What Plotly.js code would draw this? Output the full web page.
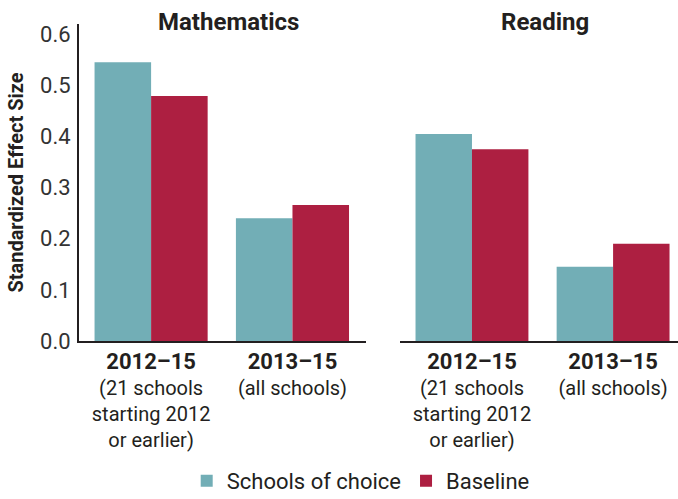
<!DOCTYPE html>
<html>
<head>
<meta charset="utf-8">
<script src="https://cdn.plot.ly/plotly-3.0.1.min.js"></script>
<style>html,body{margin:0;padding:0;background:#fff;}#chart{width:678px;height:499px;}</style>
</head>
<body>
<div id="chart"></div>
<script>
// ---- data ----
const categories = ['2012–15', '2013–15'];
const tickLabels = [
  '<b><span style="font-size:22px">2012–15</span></b><br>(21 schools<br>starting 2012<br>or earlier)',
  '<b><span style="font-size:22px">2013–15</span></b><br>(all schools)'
];
const seriesNames = ['Schools of choice', 'Baseline'];
const mathChoice = [0.545, 0.240];
const mathBaseline = [0.479, 0.266];
const readChoice = [0.405, 0.145];
const readBaseline = [0.375, 0.190];
const panelTitles = ['Mathematics', 'Reading'];

const teal = '#72aeb6';
const red = '#ad1f41';
const ink = '#231f20';
const FONT = 'Roboto, "Open Sans", sans-serif';

const traces = [
  {type: 'bar', name: seriesNames[0], x: categories, y: mathChoice, xaxis: 'x', yaxis: 'y',
   marker: {color: teal}, legendgroup: 'a', hoverinfo: 'y'},
  {type: 'bar', name: seriesNames[1], x: categories, y: mathBaseline, xaxis: 'x', yaxis: 'y',
   marker: {color: red}, legendgroup: 'b', hoverinfo: 'y'},
  {type: 'bar', name: seriesNames[0], x: categories, y: readChoice, xaxis: 'x2', yaxis: 'y',
   marker: {color: teal}, legendgroup: 'a', showlegend: false, hoverinfo: 'y'},
  {type: 'bar', name: seriesNames[1], x: categories, y: readBaseline, xaxis: 'x2', yaxis: 'y',
   marker: {color: red}, legendgroup: 'b', showlegend: false, hoverinfo: 'y'}
];

const xCommon = {
  type: 'category',
  tickvals: categories,
  ticktext: tickLabels,
  tickfont: {family: FONT, size: 20, color: ink},
  showline: true, linecolor: ink, linewidth: 2,
  showgrid: false, zeroline: false, ticks: '', anchor: 'y',
  ticklabelstandoff: 2,
  fixedrange: true
};

const layout = {
  width: 678, height: 499,
  margin: {l: 79, r: 0, t: 24, b: 158},
  paper_bgcolor: '#fff', plot_bgcolor: '#fff',
  font: {family: FONT, color: ink},
  barmode: 'group', bargap: 0.2, bargroupgap: 0,
  showlegend: true,
  legend: {orientation: 'h', xref: 'container', yref: 'container',
           x: 0.532, xanchor: 'center', y: 0.036, yanchor: 'middle',
           font: {family: FONT, size: 22, color: ink}, traceorder: 'normal'},
  xaxis: Object.assign({}, xCommon, {domain: [0, 0.4791], range: [-0.51, 1.52]}),
  xaxis2: Object.assign({}, xCommon, {domain: [0.5359, 1], range: [-0.51, 1.46]}),
  yaxis: {
    range: [0, 0.62], domain: [0, 1],
    tickvals: [0, 0.1, 0.2, 0.3, 0.4, 0.5, 0.6],
    ticktext: ['0.0', '0.1', '0.2', '0.3', '0.4', '0.5', '0.6'],
    tickfont: {family: FONT, size: 22, color: '#333'},
    showline: true, linecolor: ink, linewidth: 2,
    showgrid: false, zeroline: false, ticks: '', ticklabelstandoff: 2,
    title: {text: '<b>Standardized Effect Size</b>', font: {family: FONT, size: 20, color: ink}, standoff: 11},
    fixedrange: true
  },
  annotations: [
    {text: '<b>' + panelTitles[0] + '</b>', xref: 'paper', yref: 'paper', x: 0.250, y: 1.007,
     xanchor: 'center', yanchor: 'middle', showarrow: false, font: {family: FONT, size: 24, color: ink}},
    {text: '<b>' + panelTitles[1] + '</b>', xref: 'paper', yref: 'paper', x: 0.778, y: 1.007,
     xanchor: 'center', yanchor: 'middle', showarrow: false, font: {family: FONT, size: 24, color: ink}}
  ]
};

Plotly.newPlot('chart', traces, layout, {displayModeBar: false, staticPlot: true});
</script>
</body>
</html>
